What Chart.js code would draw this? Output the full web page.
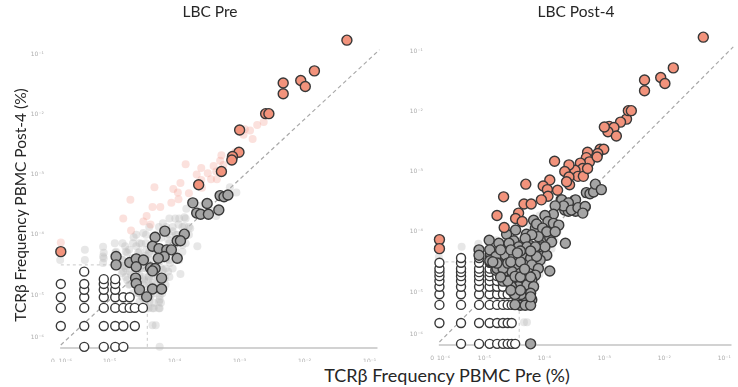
<!DOCTYPE html>
<html>
<head>
<meta charset="utf-8">
<script src="https://cdn.jsdelivr.net/npm/chart.js@4.4.0/dist/chart.umd.min.js"></script>
<style>
  body { margin: 0; width: 738px; height: 387px; background: #fff; position: relative; overflow: hidden; font-family: Lato, "Open Sans", sans-serif; color: #262626; }
  canvas { position: absolute; top: 0; }
  .lbl { position: absolute; text-align: center; white-space: nowrap; }
</style>
</head>
<body>
<canvas id="pre" width="384" height="362" style="left:0"></canvas>
<canvas id="post" width="354" height="362" style="left:384px"></canvas>
<div class="lbl" style="left:110px; width:200px; top:2px; font-size:15.5px;">LBC Pre</div>
<div class="lbl" style="left:476px; width:200px; top:2px; font-size:15.5px;">LBC Post-4</div>
<div class="lbl" style="left:-130px; width:300px; top:194px; font-size:15.5px; line-height:22px; transform:rotate(-90deg);">TCRβ Frequency PBMC Post-4 (%)</div>
<div class="lbl" style="left:247px; width:400px; top:364px; font-size:18px; line-height:22px;">TCRβ Frequency PBMC Pre (%)</div>
<script>
// values are log10 of clone frequency: x = PBMC Pre, y = PBMC Post-4
const ZERO_X = -5.75, ZERO_Y = -5.86;   // where frequency 0 sits
const X_ONE = -5.39, Y_ONE = -5.515;    // a single read
const X_MIN = -5.824, X_MAX = -0.878, Y_MIN = -5.896, Y_MAX = -0.734;

const xTickVals = [-5.87, -5.68, -5, -4, -3, -2, -1];
const xTickLabels = ['0', '10⁻⁶', '10⁻⁵', '10⁻⁴', '10⁻³', '10⁻²', '10⁻¹'];
const yTickVals = [-5.7, -5, -4, -3, -2, -1];
const yTickLabels = ['10⁻⁶', '10⁻⁵', '10⁻⁴', '10⁻³', '10⁻²', '10⁻¹'];

// expanded clones (orange): solid in both panels / only solid in LBC Post-4
const expandedBoth = [[-1.35,-0.77],[-1.85,-1.28],[-2.06,-1.44],[-1.99,-1.54],[-2.33,-1.48],[-2.33,-1.66],
  [-2.60,-1.99],[-2.55,-1.99],[-3.00,-2.26],[-3.01,-2.63],[-3.11,-2.70],[-3.12,-2.76],[-3.28,-2.95],
  [-3.63,-3.17],[-5.75,-4.28]];
const expandedPostOnly = [[-2.63,-2.13],[-2.73,-2.18],[-2.92,-2.25],[-2.84,-2.27],[-2.94,-2.34],[-2.80,-2.41],
  [-3.07,-2.63],[-3.28,-2.68],[-3.30,-2.77],[-3.25,-2.84],[-3.40,-2.86],[-3.36,-2.95],[-3.49,-2.98],
  [-3.44,-3.08],[-3.35,-3.08],[-3.59,-2.89],[-3.66,-3.00],[-3.59,-3.09],[-3.58,-3.22],[-3.83,-2.83],
  [-3.91,-3.14],[-4.02,-3.24],[-3.95,-3.30],[-3.78,-3.31],[-3.94,-3.41],[-4.31,-3.21],[-4.05,-3.47],
  [-4.34,-3.54],[-4.22,-3.54],[-4.68,-3.42],[-4.43,-3.69],[-4.48,-3.78],[-4.37,-3.83],[-4.79,-3.73],
  [-4.67,-3.93],[-5.75,-4.13]];

// other detected clones (grey)
const greyBoth = [[-3.30,-3.35],[-3.24,-3.37],[-3.18,-3.34],[-3.72,-3.47],[-3.50,-3.48],[-3.66,-3.64],
  [-3.60,-3.66],[-3.48,-3.66],[-3.32,-3.59],[-4.15,-3.94],[-3.85,-3.99],[-3.96,-4.10],[-3.91,-4.10],
  [-4.30,-4.04],[-4.34,-4.19],[-4.24,-4.23],[-4.12,-4.25],[-4.05,-4.25],[-4.16,-4.36],[-4.25,-4.39],
  [-3.96,-4.39],[-4.90,-4.36],[-4.90,-4.50],[-4.69,-4.46],[-4.59,-4.40],[-4.48,-4.42],[-4.59,-4.53],
  [-4.37,-4.55],[-4.30,-4.56],[-4.60,-4.72],[-4.59,-4.81],[-4.54,-4.91],[-4.34,-4.60],[-4.20,-4.72],
  [-4.34,-4.90],[-4.20,-4.90],[-4.43,-5.03]];
const greyPostOnly = [[-3.15,-3.21],[-3.05,-3.30],[-3.48,-3.47],[-3.71,-3.47],[-3.60,-3.52],[-3.68,-3.57],
  [-3.82,-3.57],[-3.55,-3.64],[-3.44,-3.60],[-3.32,-3.58],[-3.36,-3.69],[-3.85,-3.71],[-3.99,-3.73],
  [-3.94,-3.83],[-3.85,-3.86],[-3.76,-3.89],[-4.18,-3.81],[-4.13,-3.87],[-4.03,-3.94],[-3.96,-4.00],
  [-3.82,-4.00],[-4.10,-4.08],[-4.21,-4.05],[-4.32,-4.11],[-4.48,-3.97],[-4.63,-4.04],[-4.51,-4.15],
  [-4.70,-4.25],[-3.65,-4.19],[-3.88,-4.17],[-3.99,-4.25],[-3.91,-4.65],[-4.07,-4.47],[-4.18,-4.58],
  [-4.92,-4.14],[-4.91,-4.30],[-4.76,-4.19],[-4.59,-4.19],[-4.43,-4.25],[-4.29,-4.25],[-4.15,-4.25],
  [-4.81,-4.41],[-4.65,-4.39],[-4.51,-4.41],[-4.37,-4.41],[-4.23,-4.44],[-4.13,-4.41],[-4.76,-4.52],
  [-4.62,-4.55],[-4.48,-4.55],[-4.34,-4.55],[-4.21,-4.55],[-4.10,-4.61],[-4.81,-4.64],[-4.67,-4.66],
  [-4.54,-4.66],[-4.40,-4.69],[-4.26,-4.69],[-4.15,-4.72],[-4.48,-4.77],[-4.34,-4.80],[-4.21,-4.80],
  [-4.56,-4.86],[-4.43,-4.91],[-4.29,-4.88],[-4.18,-4.91],[-4.51,-5.02],[-4.37,-5.02],[-4.23,-5.02],
  [-4.45,-5.13],[-4.32,-5.13],[-4.21,-5.13],[-4.40,-5.22],[-4.32,-5.22],[-4.23,-5.22],[-4.23,-5.86],
  [-4.49,-5.21],[-4.39,-5.04],[-4.49,-5.04],[-4.55,-4.91],[-4.69,-4.82],[-4.61,-4.82],[-4.49,-4.74],
  [-4.79,-4.61],[-4.69,-4.61],[-4.61,-4.52],[-4.79,-4.52],[-5.09,-4.30],[-5.09,-4.39],[-4.91,-4.48],
  [-4.73,-4.30],[-4.56,-4.30],[-4.40,-4.32],[-4.23,-4.32],[-4.86,-4.50],[-4.56,-4.50],[-4.40,-4.50],
  [-4.73,-4.75],[-4.40,-4.75],[-4.23,-4.75],[-4.56,-4.97],[-4.40,-4.97],[-4.23,-5.08],[-4.33,-4.62],
  [-4.45,-4.35]];

// clones below both cut-offs (white), as read counts [pre, post-4]
const lowPre = [[0,1],[0,2],[0,3],[0,5],[1,0],[1,1],[1,2],[1,3],[1,4],[1,5],[1,8],[2,0],[2,1],[2,2],
  [2,3],[2,4],[2,5],[2,6],[3,0],[3,1],[3,2],[3,3],[3,4],[3,5],[3,6],[4,0],[4,1],[4,2],[4,3],[5,2],
  [5,3],[6,1],[6,2],[8,2]];
const lowPost = [[0,1],[0,2],[0,3],[0,4],[0,5],[0,6],[0,7],[0,8],[0,10],[1,0],[1,1],[1,2],[1,3],[1,4],
  [1,5],[1,6],[1,7],[1,8],[1,10],[1,12],[2,0],[2,1],[2,2],[2,3],[2,4],[2,5],[2,6],[2,7],[2,8],[2,10],
  [2,12],[3,0],[3,1],[3,2],[3,3],[3,4],[3,5],[3,6],[3,7],[3,8],[3,10],[3,12],[4,0],[4,1],[4,2],[4,3],
  [4,4],[4,5],[4,6],[4,8],[5,0],[5,1],[5,2],[5,3],[5,4],[5,6],[6,0],[6,1],[6,2],[6,3],[6,5],[7,0],
  [7,1],[7,2],[8,0]];

// all clones not found in LBC (faint background)
const background = [[-4.08,-3.73],[-3.93,-3.73],[-3.83,-3.73],[-4.39,-3.87],[-4.24,-3.87],[-4.03,-3.87],
  [-3.88,-3.87],[-3.78,-3.87],[-4.59,-4.00],[-4.44,-4.00],[-4.29,-4.00],[-4.08,-4.00],[-3.98,-4.00],
  [-3.78,-4.00],[-4.80,-4.14],[-4.64,-4.14],[-4.54,-4.14],[-4.44,-4.14],[-4.08,-4.14],[-3.83,-4.14],
  [-4.90,-4.28],[-4.75,-4.28],[-4.54,-4.28],[-4.39,-4.28],[-4.29,-4.28],[-4.03,-4.28],[-3.88,-4.28],
  [-4.80,-4.42],[-4.44,-4.42],[-4.24,-4.42],[-4.08,-4.42],[-3.93,-4.42],[-4.75,-4.56],[-4.54,-4.56],
  [-4.44,-4.56],[-4.14,-4.56],[-4.03,-4.56],[-4.75,-4.70],[-4.49,-4.70],[-4.39,-4.70],[-4.29,-4.70],
  [-4.08,-4.70],[-4.70,-4.83],[-4.49,-4.83],[-4.39,-4.83],[-4.29,-4.83],[-4.14,-4.83],[-4.64,-4.97],
  [-4.54,-4.97],[-4.29,-4.97],[-4.19,-4.97],[-4.54,-5.11],[-4.39,-5.11],[-4.24,-5.11],[-4.44,-5.22],
  [-4.34,-5.22],[-4.24,-5.22],[-5.38,-4.25],[-5.38,-4.42],[-5.10,-4.20],[-5.10,-4.36],[-5.10,-4.47],
  [-5.76,-4.42],[-4.34,-5.50],[-4.29,-5.50]];

// guide lines
const diagonal = [[-5.75,-5.83],[-0.85,-0.93]];
const cutX = -4.42, cutY = -4.5;
const baseLine = [[-5.76,-5.88],[-0.88,-5.88]];

Chart.defaults.font.family = 'DejaVu Sans';

const ORANGE = '#f2937c', PINK = 'rgba(240,140,125,0.26)';
const GREY = '#a5a5a5', PALE = 'rgba(185,185,185,0.35)', EDGE = '#383838';

const pts = list => list.map(([x, y]) => ({ x, y }));
const fromCounts = list => list.map(([a, b]) => ({
  x: a ? X_ONE + Math.log10(a) : ZERO_X,
  y: b ? Y_ONE + Math.log10(b) : ZERO_Y
}));

function solid(data, fill, r, order) {
  return { data, backgroundColor: fill, borderColor: EDGE, borderWidth: 1.4, pointRadius: r, clip: false, order };
}
function faint(data, fill, order) {
  return { data, backgroundColor: fill, borderWidth: 0, pointRadius: 4, clip: false, order };
}
function guide(data, color, width, dash) {
  return { type: 'line', data: pts(data), borderColor: color, borderWidth: width, borderDash: dash,
           pointRadius: 0, fill: false, clip: false, order: 20 };
}
function guides() {
  return [
    guide(diagonal, '#a9a9a9', 1.2, [4, 3]),
    guide([[ZERO_X, cutY], [cutX, cutY]], '#c9c9c9', 1, [3, 3]),
    guide([[cutX, ZERO_Y], [cutX, cutY]], '#c9c9c9', 1, [3, 3]),
    guide(baseLine, '#d2d2d2', 2, [])
  ];
}

function panel(id, sets, pad, yW, xH) {
  new Chart(document.getElementById(id), {
    type: 'scatter',
    data: { datasets: sets },
    options: {
      responsive: false, animation: false, events: [],
      layout: { padding: pad },
      plugins: { legend: { display: false }, tooltip: { enabled: false } },
      scales: {
        x: {
          type: 'linear', min: X_MIN, max: X_MAX,
          grid: { display: false }, border: { display: false },
          afterFit: s => { s.height = xH; },
          afterBuildTicks: s => { s.ticks = xTickVals.map(v => ({ value: v })); },
          ticks: { callback: (v, i) => xTickLabels[i], font: { size: 6 }, color: '#adadad',
                   padding: 1, maxRotation: 0, autoSkip: false }
        },
        y: {
          type: 'linear', min: Y_MIN, max: Y_MAX,
          grid: { display: false }, border: { display: false },
          afterFit: s => { s.width = yW; },
          afterBuildTicks: s => { s.ticks = yTickVals.map(v => ({ value: v })); },
          ticks: { callback: (v, i) => yTickLabels[i], font: { size: 6 }, color: '#adadad',
                   padding: 4, autoSkip: false }
        }
      }
    }
  });
}

panel('pre', [
  ...guides(),
  faint(pts(background), PALE, 9),
  faint(pts(greyPostOnly), PALE, 8),
  faint(pts(expandedPostOnly), PINK, 7),
  solid(pts(greyBoth), GREY, 5, 4),
  solid(fromCounts(lowPre), '#ffffff', 4.5, 3),
  solid(pts(expandedBoth), ORANGE, 5, 1)
], { left: 0, top: 38, right: 4, bottom: 0 }, 56, 13);

panel('post', [
  ...guides(),
  faint(pts(background), PALE, 9),
  solid(fromCounts(lowPost), '#ffffff', 4.5, 5),
  solid(pts(greyBoth), GREY, 5, 4),
  solid(pts(greyPostOnly), GREY, 5, 3),
  solid(pts(expandedPostOnly), ORANGE, 5, 2),
  solid(pts(expandedBoth), ORANGE, 5, 1)
], { left: 0, top: 35, right: 2, bottom: 0 }, 51, 16);
</script>
</body>
</html>
